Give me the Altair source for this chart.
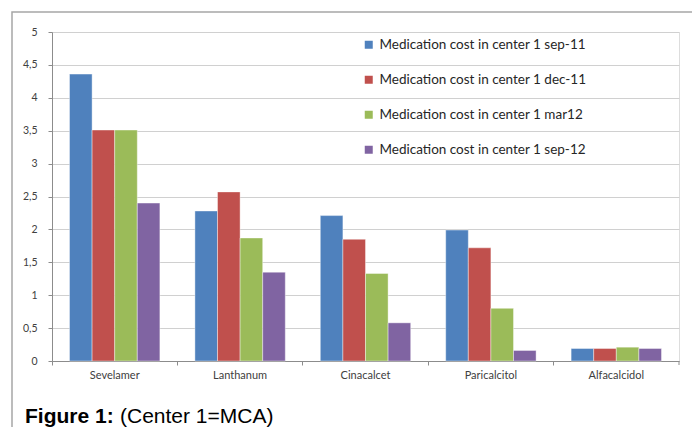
import altair as alt
import pandas as pd

categories = ["Sevelamer", "Lanthanum", "Cinacalcet", "Paricalcitol", "Alfacalcidol"]
series = [
    "Medication cost in center 1 sep-11",
    "Medication cost in center 1 dec-11",
    "Medication cost in center 1 mar12",
    "Medication cost in center 1 sep-12",
]
sep11 = [4.36, 2.28, 2.21, 1.99, 0.19]
dec11 = [3.51, 2.57, 1.85, 1.72, 0.19]
mar12 = [3.51, 1.87, 1.33, 0.80, 0.21]
sep12 = [2.40, 1.35, 0.58, 0.16, 0.19]
colors = ["#4F81BD", "#C0504D", "#9BBB59", "#8064A2"]
y_ticks = [0, 0.5, 1, 1.5, 2, 2.5, 3, 3.5, 4, 4.5, 5]

rows = []
for s, vals in zip(series, [sep11, dec11, mar12, sep12]):
    for c, v in zip(categories, vals):
        rows.append({"drug": c, "series": s, "cost": v})
df = pd.DataFrame(rows)

W, H = 627, 329
AXIS_GREY = "#8C8C8C"

bars = alt.Chart(df).mark_bar(stroke="white", strokeWidth=0.8, strokeOpacity=0.5).encode(
    x=alt.X("drug:N", sort=categories, title=None,
            scale=alt.Scale(paddingInner=0, paddingOuter=0),
            axis=alt.Axis(labelAngle=0, bandPosition=0, ticks=True, tickSize=4,
                          tickColor=AXIS_GREY, domainColor=AXIS_GREY,
                          labelFont="Lato", labelFontSize=11, labelColor="#404040",
                          labelPadding=4, grid=False)),
    xOffset=alt.XOffset("series:N", sort=series,
                        scale=alt.Scale(paddingInner=0, paddingOuter=0.775)),
    y=alt.Y("cost:Q", title=None,
            scale=alt.Scale(domain=[0, 5], nice=False),
            axis=alt.Axis(values=y_ticks, tickSize=4, tickColor=AXIS_GREY,
                          domainColor=AXIS_GREY, gridColor="#D0D0D0",
                          labelFont="Lato", labelFontSize=10.5, labelColor="#404040",
                          labelPadding=11,
                          labelExpr="replace(toString(datum.value), '.', ',')")),
    color=alt.Color("series:N", sort=series,
                    scale=alt.Scale(domain=series, range=colors),
                    legend=alt.Legend(title=None, orient="none", legendX=310, legendY=6,
                                      symbolType="square", symbolSize=64,
                                      symbolStrokeWidth=0, labelFont="Lato",
                                      labelFontSize=13.5, labelColor="#262626",
                                      labelLimit=400, rowPadding=20, labelOffset=4)),
)

one = alt.Data(values=[{}])

frame = alt.Chart(one).mark_rect(filled=False, stroke="#A6A6A6", strokeWidth=1.5).encode(
    x=alt.value(-40), x2=alt.value(760), y=alt.value(-20), y2=alt.value(500)
)

end_tick = alt.Chart(one).mark_rule(color=AXIS_GREY).encode(
    x=alt.value(W), y=alt.value(H), y2=alt.value(H + 4)
)

cap1 = alt.Chart(one).mark_text(
    text="Figure 1:", font="Liberation Sans", fontSize=21, fontWeight="bold",
    align="left", baseline="alphabetic", color="#000000"
).encode(x=alt.value(-27), y=alt.value(391))

cap2 = alt.Chart(one).mark_text(
    text="(Center 1=MCA)", font="Liberation Sans", fontSize=21,
    align="left", baseline="alphabetic", color="#000000"
).encode(x=alt.value(68), y=alt.value(391))

chart = alt.layer(frame, bars, end_tick, cap1, cap2).properties(
    width=W, height=H,
    autosize=alt.AutoSizeParams(type="none"),
    padding={"left": 44, "top": 24, "right": 13, "bottom": 66},
).configure_view(stroke=None).configure(background="white")

chart.save("out.html", embed_options={"renderer": "svg", "actions": False})
